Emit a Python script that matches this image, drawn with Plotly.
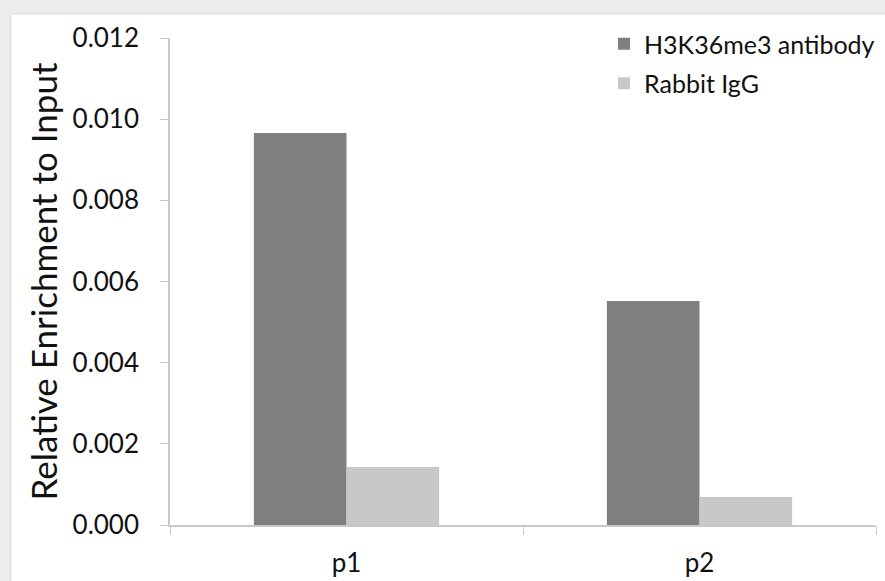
import plotly.graph_objects as go

categories = ["p1", "p2"]
antibody = [0.00966, 0.00552]
igg = [0.00143, 0.00069]
y_ticks = [0.000, 0.002, 0.004, 0.006, 0.008, 0.010, 0.012]
y_tick_labels = ["0.000", "0.002", "0.004", "0.006", "0.008", "0.010", "0.012"]

W, H = 885, 581
ml, mr, mt, mb = 170, 5, 38, 56
pw, ph = W - ml - mr, H - mt - mb

def px_x(p):
    return (p - ml) / pw

def px_y(p):
    return (H - mb - p) / ph

fig = go.Figure()
fig.add_trace(go.Bar(x=categories, y=antibody, name="H3K36me3 antibody",
                     legendgroup="a",
                     marker=dict(color="#808080", line=dict(width=0))))
fig.add_trace(go.Bar(x=categories, y=igg, name="Rabbit IgG",
                     legendgroup="b",
                     marker=dict(color="#c8c8c8", line=dict(width=0))))

fig.add_shape(type="rect", xref="paper", yref="paper",
              x0=px_x(10), x1=px_x(W + 5), y0=px_y(H + 5), y1=px_y(14),
              fillcolor="white", line=dict(color="#dcdcdc", width=1), layer="below")

FONT = "Lato, Open Sans, sans-serif"

fig.update_layout(
    width=W, height=H,
    margin=dict(l=ml, r=mr, t=mt, b=mb),
    paper_bgcolor="#ececec",
    plot_bgcolor="white",
    barmode="group",
    bargap=0.475,
    bargroupgap=0,
    font=dict(family=FONT, color="#111111"),
    showlegend=True,
    legend=dict(x=px_x(W - 1), y=px_y(21), xanchor="right", yanchor="top",
                bgcolor="rgba(0,0,0,0)", font=dict(size=25), itemwidth=30,
                tracegroupgap=4),
    xaxis=dict(
        showline=True, linecolor="#c8c8c8", linewidth=1.5,
        ticks="outside", tickson="boundaries", ticklen=8, tickcolor="#c8c8c8",
        tickfont=dict(size=26), showgrid=False, zeroline=False,
        ticklabelstandoff=14, automargin=False,
    ),
    yaxis=dict(
        range=[0, 0.012],
        tickvals=y_ticks, ticktext=y_tick_labels,
        showline=True, linecolor="#c8c8c8", linewidth=1.5,
        ticks="outside", ticklen=8, tickcolor="#c8c8c8",
        tickfont=dict(size=26), showgrid=False, zeroline=False,
        ticklabelstandoff=16, automargin=False,
        title=dict(text="Relative Enrichment to Input", font=dict(size=35), standoff=4),
    ),
)

fig.write_html("out.html", config={"displayModeBar": False},
               post_script="document.body.style.margin='0';document.body.style.background='#ececec';")
